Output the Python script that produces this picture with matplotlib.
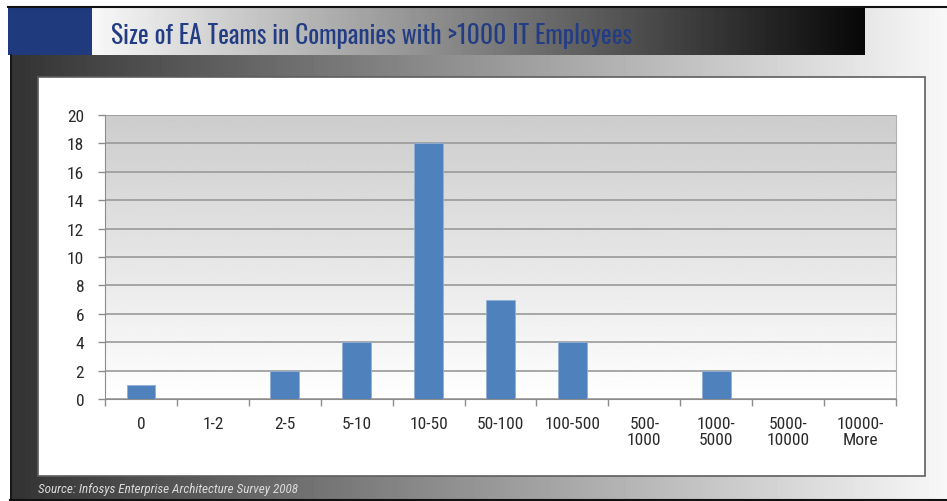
import matplotlib
matplotlib.use('Agg')
import matplotlib.pyplot as plt
import numpy as np
from matplotlib.patches import Rectangle

plt.rcParams['font.family'] = ['Roboto Condensed', 'DejaVu Sans']

TITLE = 'Size of EA Teams in Companies with >1000 IT Employees'
SOURCE = 'Source: Infosys Enterprise Architecture Survey 2008'

team_sizes = ['0', '1-2', '2-5', '5-10', '10-50', '50-100', '100-500',
              '500-\n1000', '1000-\n5000', '5000-\n10000', '10000-\nMore']
companies = [1, 0, 2, 4, 18, 7, 4, 0, 2, 0, 0]
y_ticks = list(range(0, 21, 2))

W, H = 947, 502
BAR_BLUE = '#4f81bd'
TITLE_BLUE = '#233d85'
AXIS_GREY = '#8c8c8c'


def fit_width(fig, txt, width_px):
    # shrink/grow a text so it spans the given number of pixels
    fig.canvas.draw()
    w = txt.get_window_extent().width
    txt.set_fontsize(txt.get_fontsize() * width_px / w)


def draw_frame(fig):
    # page decoration in pixel coordinates
    bg = fig.add_axes([0, 0, 1, 1])
    bg.axis('off')
    ramp = np.linspace(0.2, 0.97, 256).reshape(1, -1)
    bg.imshow(ramp, extent=[10, W, 500, 8], cmap='gray', vmin=0, vmax=1,
              aspect='auto', interpolation='bilinear')
    head = np.linspace(0.97, 0.03, 256).reshape(1, -1)
    bg.imshow(head, extent=[92, 865, 56, 8], cmap='gray', vmin=0, vmax=1,
              aspect='auto', interpolation='bilinear')
    bg.add_patch(Rectangle((8, 8), 84, 48, facecolor='#1f3a7d', lw=0))
    bg.plot([8, W], [7.5, 7.5], color='#111111', lw=1.5)
    bg.plot([10.5, 10.5], [56, 500], color='#111111', lw=1.2)
    bg.plot([10, W], [500.5, 500.5], color='#111111', lw=1.5)
    bg.add_patch(Rectangle((38, 78), 887, 399, facecolor='white',
                           edgecolor='#5e5e5e', lw=1.2))
    title = bg.text(111, 44, TITLE, color=TITLE_BLUE, fontsize=22,
                    fontweight='medium',
                    family=['Oswald', 'Roboto Condensed', 'DejaVu Sans'],
                    va='baseline', ha='left')
    source = bg.text(38, 493, SOURCE, color='#dcdcdc', fontsize=10,
                     style='italic', va='baseline', ha='left')
    bg.set_xlim(0, W)
    bg.set_ylim(H, 0)
    return bg, title, source


def main():
    fig = plt.figure(figsize=(W / 100, H / 100), dpi=100)
    bg, title, source = draw_frame(fig)

    ax = fig.add_axes([105 / W, 1 - 400 / H, (896 - 105) / W, (400 - 116) / H])
    x = np.arange(len(team_sizes))

    # plot area shaded from grey at the top to white at the bottom
    shade = np.linspace(0.8, 1.0, 256).reshape(-1, 1)
    ax.imshow(shade, extent=[-0.5, len(team_sizes) - 0.5, 0, 20],
              cmap='gray', vmin=0, vmax=1, aspect='auto', zorder=0,
              interpolation='bilinear')
    ax.bar(x, companies, width=0.4, color=BAR_BLUE, edgecolor='#8fb0d8',
           linewidth=0.6, zorder=2)

    ax.set_xlim(-0.5, len(team_sizes) - 0.5)
    ax.set_ylim(0, 20)
    ax.set_yticks(y_ticks)
    ax.yaxis.grid(True, color='#999999', lw=1.2, zorder=1)
    ax.set_axisbelow(True)

    ax.set_xticks(x)
    ax.set_xticklabels(team_sizes, linespacing=1.1)
    ax.set_xticks(np.arange(-0.5, len(team_sizes), 1), minor=True)
    ax.tick_params(axis='x', which='major', length=0, pad=12,
                   labelsize=12.5, labelcolor='#2a2a2a')
    ax.tick_params(axis='x', which='minor', length=5, width=1,
                   color=AXIS_GREY)
    ax.tick_params(axis='y', length=5, width=1, color=AXIS_GREY,
                   labelsize=12.5, labelcolor='#2a2a2a', pad=10)

    ax.spines['top'].set_visible(False)
    ax.spines['right'].set_color('#b0b0b0')
    ax.spines['left'].set_color(AXIS_GREY)
    ax.spines['bottom'].set_color(AXIS_GREY)

    fit_width(fig, title, 522)
    fit_width(fig, source, 259)
    fig.savefig('out.png', dpi=100)


if __name__ == '__main__':
    main()
